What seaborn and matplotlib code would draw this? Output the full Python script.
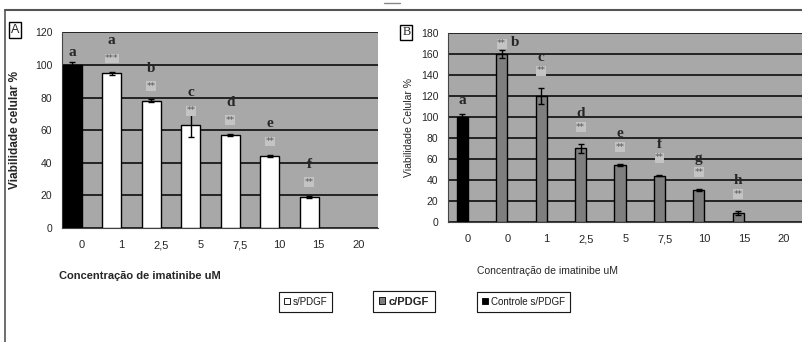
import numpy as np
import pandas as pd
import matplotlib
matplotlib.use("Agg")
import matplotlib.pyplot as plt
import seaborn as sns
from matplotlib.patches import Patch
from matplotlib.lines import Line2D

# ---- data ----
conc_a = ["0", "1", "2,5", "5", "7,5", "10", "15", "20"]
ctrl_a = [100, np.nan, np.nan, np.nan, np.nan, np.nan, np.nan, np.nan]
spdgf_a = [np.nan, 95, 78, 63, 57, 44, 19, np.nan]
err_a = [2, 1, 1, 7, 0.6, 0.6, 0.8, 0]
letters_a = ["a", "a", "b", "c", "d", "e", "f", ""]
stars_a = ["", "***", "**", "**", "**", "**", "**", ""]

keys_b = ["ctrl", "0", "1", "2,5", "5", "7,5", "10", "15", "20"]
conc_b = ["0", "0", "1", "2,5", "5", "7,5", "10", "15", "20"]
ctrl_b = [100, np.nan, np.nan, np.nan, np.nan, np.nan, np.nan, np.nan, np.nan]
cpdgf_b = [np.nan, 160, 120, 70, 54, 44, 30, 8, np.nan]
err_b = [3, 4, 8, 4, 1, 0.8, 1, 2, 0]
letters_b = ["a", "b", "c", "d", "e", "f", "g", "h", ""]
stars_b = ["", "**", "**", "**", "**", "**", "**", "**", ""]

GRAY_BG = "#a8a8a8"
GRAY_BAR = "#7f7f7f"
NARROW = ["Liberation Sans Narrow", "Liberation Sans", "DejaVu Sans"]
SERIF = ["Liberation Serif", "DejaVu Serif"]

sns.set_style("white")
plt.rcParams["font.family"] = NARROW

fig = plt.figure(figsize=(8.03, 3.42), dpi=100)
axA = fig.add_axes([0.0772, 0.334, 0.3935, 0.571])
axB = fig.add_axes([0.558, 0.352, 0.442, 0.551])


def draw_bars(ax, keys, series, colors, width):
    for vals, col in zip(series, colors):
        df = pd.DataFrame({"cat": keys, "val": vals, "slot": "L"}).dropna()
        sns.barplot(data=df, x="cat", y="val", hue="slot", order=keys,
                    hue_order=["L", "R"], palette={"L": col, "R": col},
                    width=width, dodge=True, errorbar=None, legend=False,
                    edgecolor="black", linewidth=1, ax=ax, zorder=3)


def style_axis(ax, ymax, step, labels):
    ax.set_facecolor(GRAY_BG)
    ax.set_ylim(0, ymax)
    ax.set_yticks(np.arange(0, ymax + 1, step))
    ax.set_xlim(-0.5, len(labels) - 0.5)
    ax.set_xticks(range(len(labels)))
    ax.set_xticklabels(labels)
    ax.set_xticks(np.arange(-0.5, len(labels), 1), minor=True)
    ax.tick_params(axis="x", which="major", length=0, pad=9, labelsize=8)
    ax.tick_params(axis="x", which="minor", length=4, direction="out", color="#333333")
    ax.tick_params(axis="y", length=3, direction="out", labelsize=7.5, color="#333333", pad=4)
    ax.set_axisbelow(True)
    ax.yaxis.grid(True, color="black", linewidth=1.1)
    for s in ["top", "right"]:
        ax.spines[s].set_visible(False)
    for s in ["left", "bottom"]:
        ax.spines[s].set_color("#444444")
        ax.spines[s].set_linewidth(0.8)


def add_errors(ax, errs):
    bars = sorted([p for p in ax.patches if p.get_height() > 0 and not np.isnan(p.get_height())],
                  key=lambda p: p.get_x())
    xs = [p.get_x() + p.get_width() / 2 for p in bars]
    hs = [p.get_height() for p in bars]
    es = [e for e, p in zip(errs, bars)]
    ax.errorbar(xs, hs, yerr=es, fmt="none", ecolor="black", elinewidth=1,
                capsize=2.5, capthick=1, zorder=4)
    return xs, hs


def stars(ax, x, y, s):
    ax.text(x, y, s, ha="center", va="center", fontsize=6.5, color="#555555",
            family=["DejaVu Sans"],
            bbox=dict(boxstyle="square,pad=0.05", fc="#c4c4c4", ec="none"), zorder=5)


def letter(ax, x, y, s):
    ax.text(x, y, s, ha="center", va="center", fontsize=11, fontweight="bold",
            family=SERIF, zorder=5)


# ---- panel A ----
draw_bars(axA, conc_a, [ctrl_a, spdgf_a], ["black", "white"], 0.96)
style_axis(axA, 120, 20, conc_a)
xsA, hsA = add_errors(axA, err_a)
axA.set_xlabel("Concentração de imatinibe uM", fontsize=8, fontweight="bold")
axA.set_ylabel("Viabilidade celular %", fontsize=8.5, fontweight="bold")
axA.xaxis.set_label_coords(0.247, -0.22)
axA.yaxis.set_label_coords(-0.13, 0.5)
for i, (x, h) in enumerate(zip(xsA, hsA)):
    if stars_a[i]:
        stars(axA, x, h + 9, stars_a[i])
    letter(axA, x, h + (8 if i == 0 else 20), letters_a[i])

# ---- panel B ----
draw_bars(axB, keys_b, [ctrl_b, cpdgf_b], ["black", GRAY_BAR], 0.56)
style_axis(axB, 180, 20, conc_b)
xsB, hsB = add_errors(axB, err_b)
axB.set_xlabel("Concentração de imatinibe uM", fontsize=7.5)
axB.set_ylabel("Viabilidade Celular %", fontsize=7.5)
axB.xaxis.set_label_coords(0.28, -0.235)
axB.yaxis.set_label_coords(-0.095, 0.5)
for i, (x, h) in enumerate(zip(xsB, hsB)):
    e = err_b[i]
    if i == 0:
        letter(axB, x, h + 16, letters_b[i])
    elif i == 1:
        stars(axB, x, h + 10, stars_b[i])
        letter(axB, x + 0.35, h + 11, letters_b[i])
    else:
        stars(axB, x, h + e + 16, stars_b[i])
        letter(axB, x, h + e + 29, letters_b[i])

# panel letters
fig.text(0.019, 0.913, "A", fontsize=9, ha="center", va="center",
         bbox=dict(boxstyle="square,pad=0.15", fc="white", ec="black", lw=1))
fig.text(0.506, 0.905, "B", fontsize=9, ha="center", va="center", family=SERIF,
         bbox=dict(boxstyle="square,pad=0.15", fc="white", ec="black", lw=1))

# frame lines
fig.add_artist(Line2D([0.006, 1.0], [0.97, 0.97], color="#555555", lw=1.5))
fig.add_artist(Line2D([0.006, 0.006], [0.0, 0.97], color="#555555", lw=1.2))
fig.add_artist(Line2D([0.478, 0.498], [0.992, 0.992], color="#888888", lw=1))

# legends (three separate boxes)
leg_items = [("s/PDGF", "white", 0.381, "normal", 7),
             ("c/PDGF", GRAY_BAR, 0.503, "bold", 8),
             ("Controle s/PDGF", "black", 0.652, "normal", 7)]
for lab, col, xc, fw, fs in leg_items:
    h = Patch(facecolor=col, edgecolor="black", linewidth=0.6)
    lg = fig.legend([h], [lab], loc="center", bbox_to_anchor=(xc, 0.118), frameon=True,
                    fancybox=False, edgecolor="black", handlelength=0.6, handleheight=0.6,
                    handletextpad=0.3, borderpad=0.5, prop=dict(family=NARROW, size=fs, weight=fw))
    lg.get_frame().set_linewidth(0.8)
    fig.add_artist(lg)

fig.savefig("out.png", dpi=100)
